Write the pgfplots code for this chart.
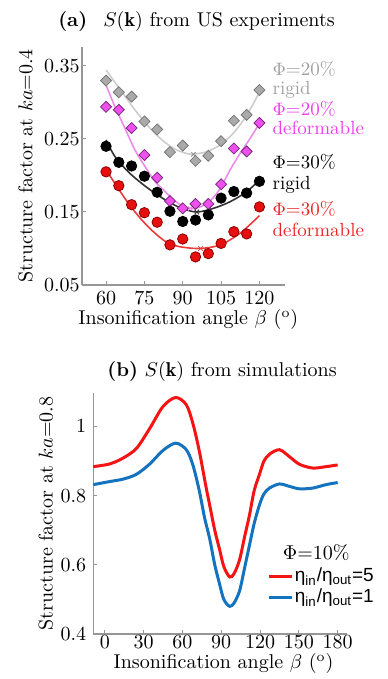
\documentclass[border=0pt]{standalone}
\usepackage{fontspec}
\usepackage{pgfplots}
\pgfplotsset{compat=1.18}
\newfontfamily\arialfont{Liberation Sans}
\definecolor{axisgray}{RGB}{150,150,150}
\definecolor{grayfill}{RGB}{170,170,170}
\definecolor{grayedge}{RGB}{120,120,120}
\definecolor{graycurve}{RGB}{205,205,205}
\definecolor{graytext}{RGB}{160,160,160}
\definecolor{magfill}{RGB}{238,80,238}
\definecolor{magedge}{RGB}{120,40,120}
\definecolor{magcurve}{RGB}{235,140,235}
\definecolor{magtext}{RGB}{238,60,238}
\definecolor{blkcurve}{RGB}{50,50,50}
\definecolor{redfill}{RGB}{230,15,15}
\definecolor{rededge}{RGB}{140,0,0}
\definecolor{redcurve}{RGB}{235,60,60}
\definecolor{redtext}{RGB}{235,35,35}
\definecolor{simred}{RGB}{245,20,20}
\definecolor{simblue}{RGB}{20,115,190}
\tikzset{lbl/.style={anchor=base west, inner sep=0pt, font=\fontsize{9.5}{10}\selectfont}}

\pgfplotstableread{
x y
60 0.330
65 0.314
70 0.308
75 0.274
80 0.263
85 0.232
90 0.241
95 0.220
100 0.227
105 0.247
110 0.275
115 0.283
120 0.317
}\grayrigid
\pgfplotstableread{
x y
60 0.294
65 0.290
70 0.265
75 0.228
80 0.197
85 0.165
90 0.155
95 0.161
100 0.161
105 0.188
110 0.237
115 0.233
120 0.272
}\magdef
\pgfplotstableread{
x y
60 0.240
65 0.218
70 0.213
75 0.199
80 0.177
85 0.151
90 0.137
95 0.139
100 0.146
105 0.169
110 0.178
115 0.176
120 0.192
}\blkrigid
\pgfplotstableread{
x y
60 0.205
65 0.186
70 0.160
75 0.149
80 0.136
85 0.105
90 0.113
95 0.0885
100 0.093
105 0.107
110 0.123
115 0.120
120 0.157
}\reddef

\begin{document}
\begin{tikzpicture}
\useasboundingbox (0,0) rectangle (193.5pt,-339.5pt);

\node[anchor=base] at (98.25pt,-13.3pt) {\textbf{(a)}\hspace{8pt}$S(\mathbf{k})$ from US experiments};
\node[anchor=base] at (111pt,-188.3pt) {\textbf{(b)} $S(\mathbf{k})$ from simulations};

\begin{axis}[
  at={(41pt,-142.5pt)}, anchor=south west,
  scale only axis, width=101.5pt, height=119pt,
  xmin=50.6, xmax=130, ymin=0.05, ymax=0.376,
  axis lines=left, axis line style={-, draw=axisgray, line width=0.6pt},
  tick style={draw=axisgray, line width=0.5pt}, major tick length=2pt, tick align=inside,
  xtick={60,75,90,105,120}, ytick={0.05,0.15,0.25,0.35},
  y tick label style={/pgf/number format/.cd, fixed, fixed zerofill, precision=2, /tikz/.cd, inner xsep=1pt},
  clip=false,
  xlabel={Insonification angle $\beta$ ($^{\mathrm{o}}$)},
  ylabel={Structure factor at $ka$=0.4},
  xlabel style={at={(axis description cs:0.524,-0.168)}, anchor=base},
  ylabel style={at={(axis description cs:-0.207,0.5)}, anchor=south},
]
% fitted curves
\addplot[graycurve, line width=0.8pt, smooth] coordinates {(60,0.3445) (66.1,0.315) (71.3,0.290) (76.6,0.267) (81.8,0.249) (87,0.236) (92.2,0.2295) (94.2,0.229) (99.4,0.2326) (104.6,0.2418) (109.8,0.258) (115.1,0.283) (120,0.314)};
\addplot[magcurve, line width=0.8pt, smooth] coordinates {(60,0.324) (63.5,0.294) (67.4,0.2647) (71.3,0.235) (75.3,0.212) (79.2,0.1915) (83.1,0.178) (87,0.165) (90,0.158) (93,0.155) (96.8,0.157) (100.7,0.165) (104.6,0.182) (108.5,0.2075) (112.4,0.230) (116.4,0.251) (120,0.2715)};
\addplot[blkcurve, line width=0.8pt, smooth] coordinates {(60,0.2486) (63.5,0.2258) (68.7,0.205) (74,0.189) (79.2,0.1756) (84.4,0.164) (89.6,0.155) (95.5,0.150) (102,0.155) (108.5,0.164) (115.1,0.178) (120,0.194)};
\addplot[redcurve, line width=0.8pt, smooth] coordinates {(60,0.2075) (63.5,0.189) (68.7,0.162) (74,0.139) (79.2,0.1208) (84.4,0.107) (89.6,0.102) (96.8,0.100) (104.6,0.1048) (112.4,0.1208) (120,0.145)};
% minima marks
\addplot[only marks, mark=x, mark size=1.6pt, graycurve!70!black] coordinates {(94.2,0.229)};
\addplot[only marks, mark=x, mark size=1.6pt, magcurve] coordinates {(93,0.155)};
\addplot[only marks, mark=x, mark size=1.6pt, blkcurve] coordinates {(95.5,0.150)};
\addplot[only marks, mark=x, mark size=1.6pt, redcurve] coordinates {(97,0.100)};
% data points
\addplot[only marks, mark=square*, mark size=1.95pt, mark options={rotate=45, fill=grayfill, draw=grayedge, line width=0.4pt}] table {\grayrigid};
\addplot[only marks, mark=square*, mark size=1.95pt, mark options={rotate=45, fill=magfill, draw=magedge, line width=0.4pt}] table {\magdef};
\addplot[only marks, mark=*, mark size=2.6pt, mark options={fill=black, draw=black}] table {\blkrigid};
\addplot[only marks, mark=*, mark size=2.6pt, mark options={fill=redfill, draw=rededge, line width=0.4pt}] table {\reddef};
% labels
\node[lbl, text=graytext] at (axis cs:125,0.3375) {$\Phi$=20\%};
\node[lbl, text=graytext] at (axis cs:125,0.3115) {rigid};
\node[lbl, text=magtext] at (axis cs:125,0.2827) {$\Phi$=20\%};
\node[lbl, text=magtext] at (axis cs:125,0.2568) {deformable};
\node[lbl, text=black] at (axis cs:125,0.2097) {$\Phi$=30\%};
\node[lbl, text=black] at (axis cs:125,0.1803) {rigid};
\node[lbl, text=redtext] at (axis cs:125,0.1458) {$\Phi$=30\%};
\node[lbl, text=redtext] at (axis cs:125,0.1163) {deformable};
\end{axis}

\begin{axis}[
  at={(46.65pt,-317pt)}, anchor=south west,
  scale only axis, width=126.7pt, height=120.5pt,
  xmin=-8.9, xmax=187, ymin=0.4, ymax=1.097,
  axis lines=left, axis line style={-, draw=axisgray, line width=0.6pt},
  tick style={draw=axisgray, line width=0.5pt}, major tick length=2pt, tick align=inside,
  xtick={0,30,60,90,120,150,180}, ytick={0.4,0.6,0.8,1},
  x tick label style={inner ysep=0.8pt},
  clip=false,
  xlabel={Insonification angle $\beta$ ($^{\mathrm{o}}$)},
  ylabel={Structure factor at $ka$=0.8},
  xlabel style={at={(axis description cs:0.514,-0.145)}, anchor=base},
  ylabel style={at={(axis description cs:-0.131,0.5)}, anchor=south},
  legend style={draw=none, fill=none, at={(axis description cs:0.685,0.282)}, anchor=north west, inner sep=0pt, row sep=0.5pt, font=\arialfont\fontsize{9.5}{11}\selectfont, nodes={inner sep=0.8pt, anchor=west}},
  legend cell align=left,
  legend image code/.code={\draw[#1] (0pt,0pt) -- (11.5pt,0pt);},
]
\addplot[simred, line width=1.5pt, smooth] coordinates {(-8.9,0.884) (3.9,0.892) (14.2,0.909) (24.5,0.937) (34.8,0.995) (45,1.058) (54.8,1.084) (63,1.063) (68,1.010) (73,0.930) (78,0.830) (81,0.774) (85,0.700) (88.7,0.645) (92,0.595) (96.5,0.565) (100,0.575) (104.2,0.615) (108,0.68) (111.9,0.745) (115.5,0.815) (119.6,0.862) (123,0.900) (127.3,0.920) (135,0.933) (142.7,0.913) (150.4,0.891) (160.7,0.880) (171,0.884) (180,0.889)};
\addlegendentry{η\textsubscript{in}/η\textsubscript{out}=5}
\addplot[simblue, line width=1.5pt, smooth] coordinates {(-8.9,0.832) (3.9,0.841) (14.2,0.848) (24.5,0.862) (34.8,0.892) (45,0.931) (54.8,0.952) (63,0.933) (68,0.890) (73,0.815) (77.2,0.735) (81,0.677) (85,0.600) (88.7,0.545) (92,0.500) (96.5,0.480) (100,0.490) (104.2,0.525) (108,0.59) (111.9,0.658) (115.5,0.72) (119.6,0.774) (123,0.805) (127.3,0.822) (135,0.834) (142.7,0.827) (150.4,0.820) (160.7,0.822) (171,0.832) (180,0.838)};
\addlegendentry{η\textsubscript{in}/η\textsubscript{out}=1}
\node[anchor=base west, inner sep=0pt] at (axis cs:137.3,0.615) {$\Phi$=10\%};
\end{axis}
\end{tikzpicture}
\end{document}
